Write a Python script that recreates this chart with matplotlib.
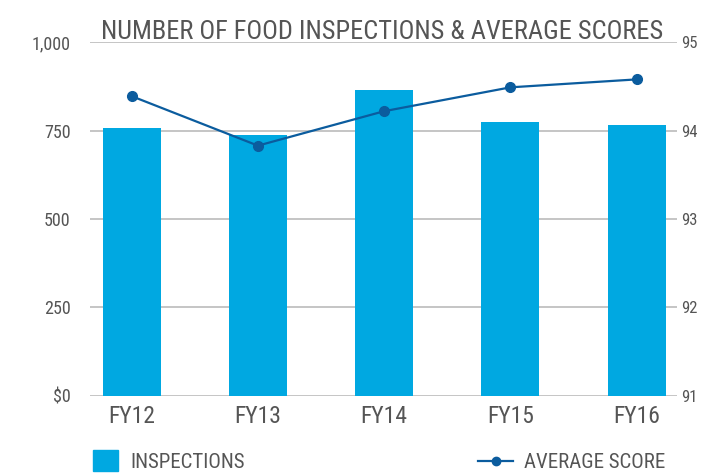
import matplotlib
matplotlib.use("Agg")
import matplotlib.pyplot as plt
from matplotlib import font_manager as fm
from matplotlib.lines import Line2D
from matplotlib.patches import Patch

years = ["FY12", "FY13", "FY14", "FY15", "FY16"]
inspections = [758, 738, 865, 774, 766]
avg_score = [94.39, 93.83, 94.22, 94.49, 94.58]

left_ticks = [0, 250, 500, 750, 1000]
left_labels = ["$0", "250", "500", "750", "1,000"]
right_ticks = [91, 92, 93, 94, 95]

bar_color = "#00A8E1"
line_color = "#0B5C9E"
text_color = "#555555"
grid_color = "#BBBBBB"

family = "DejaVu Sans"
for name in ["Liberation Sans Narrow", "Roboto Condensed", "DejaVu Sans Condensed"]:
    try:
        fm.findfont(name, fallback_to_default=False)
        family = name
        break
    except Exception:
        pass
plt.rcParams["font.family"] = [family, "DejaVu Sans"]

fig = plt.figure(figsize=(7.05, 4.74), dpi=100)
ax = fig.add_axes([0.1277, 0.1652, 0.8326, 0.7456])
ax2 = ax.twinx()

x = list(range(len(years)))
ax.bar(x, inspections, width=0.46, color=bar_color, zorder=2)
ax.set_ylim(0, 1000)
ax.set_xlim(-0.33, 4.32)
ax.set_yticks(left_ticks)
ax.set_yticklabels(left_labels)
ax.set_xticks(x)
ax.set_xticklabels(years)
ax.yaxis.grid(True, color=grid_color, linewidth=1.2, zorder=0)
ax.set_axisbelow(True)

ax2.plot(x, avg_score, color=line_color, linewidth=1.6, marker="o",
         markersize=7, zorder=3)
ax2.set_ylim(91, 95)
ax2.set_yticks(right_ticks)

for a in (ax, ax2):
    for s in a.spines.values():
        s.set_visible(False)
    a.tick_params(length=0, colors=text_color, labelsize=13)
ax.tick_params(axis="y", pad=14)
ax.tick_params(axis="x", pad=7, labelsize=17)
ax2.tick_params(axis="y", pad=3, labelsize=12)

fig.text(0.542, 0.908, "NUMBER OF FOOD INSPECTIONS & AVERAGE SCORES",
         ha="center", va="bottom", fontsize=19, color=text_color)

handles = [Patch(color=bar_color)]
fig.legend(handles, ["INSPECTIONS"], loc="lower left",
           bbox_to_anchor=(0.105, -0.035), frameon=False, fontsize=15,
           labelcolor=text_color, handlelength=1.2, handleheight=1.2,
           handletextpad=0.6)
fig.legend([Line2D([0], [0], color=line_color, marker="o", markersize=6, linewidth=1.6)],
           ["AVERAGE SCORE"], loc="lower right", bbox_to_anchor=(0.97, -0.035),
           frameon=False, fontsize=15, labelcolor=text_color, handlelength=1.7,
           handletextpad=0.5)

fig.savefig("out.png", dpi=100)
